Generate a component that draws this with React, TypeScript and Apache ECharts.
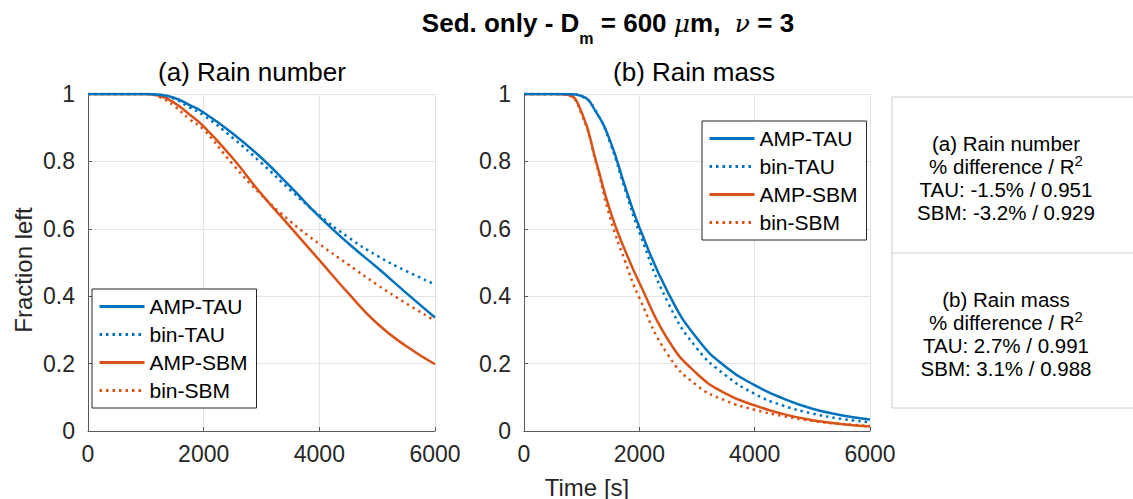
import React, { useEffect, useRef } from "react";
import * as echarts from "echarts";

const FONT = "'Liberation Sans', Arial, Helvetica, sans-serif";
const BLUE = "#0072BD";
const ORANGE = "#D95319";

const seriesNames = ["AMP-TAU", "bin-TAU", "AMP-SBM", "bin-SBM"];
const xTicks = [0, 2000, 4000, 6000];

// (a) Rain number
const timeA = [0, 500, 1000, 1250, 1500, 1750, 2000, 2500, 3000, 3500, 4000, 4500, 5000, 5500, 6000];
const ampTauA = [1, 1, 1, 0.998, 0.988, 0.968, 0.945, 0.883, 0.81, 0.725, 0.636, 0.557, 0.485, 0.41, 0.337];
const binTauA = [1, 1, 1, 0.997, 0.985, 0.961, 0.937, 0.87, 0.795, 0.715, 0.64, 0.575, 0.52, 0.475, 0.435];
const ampSbmA = [1, 1, 1, 0.994, 0.973, 0.94, 0.904, 0.81, 0.703, 0.605, 0.507, 0.409, 0.319, 0.252, 0.198];
const binSbmA = [1, 1, 1, 0.99, 0.963, 0.926, 0.894, 0.792, 0.7, 0.622, 0.555, 0.494, 0.434, 0.379, 0.327];

// (b) Rain mass
const timeB = [0, 500, 750, 1000, 1250, 1500, 1750, 2000, 2500, 3000, 3500, 4000, 4500, 5000, 5500, 6000];
const ampTauB = [1, 1, 1, 0.994, 0.946, 0.858, 0.727, 0.605, 0.41, 0.275, 0.19, 0.136, 0.096, 0.066, 0.047, 0.034];
const binTauB = [1, 1, 1, 0.993, 0.948, 0.852, 0.718, 0.59, 0.38, 0.245, 0.165, 0.11, 0.075, 0.052, 0.036, 0.026];
const ampSbmB = [1, 1, 0.998, 0.945, 0.8, 0.65, 0.537, 0.44, 0.27, 0.17, 0.111, 0.076, 0.05, 0.032, 0.021, 0.013];
const binSbmB = [1, 1, 0.997, 0.94, 0.795, 0.63, 0.505, 0.395, 0.225, 0.135, 0.09, 0.063, 0.044, 0.03, 0.021, 0.015];

// Statistics panel
const panelA = ["(a) Rain number", "TAU: -1.5% / 0.951", "SBM: -3.2% / 0.929"];
const panelB = ["(b) Rain mass", "TAU: 2.7% / 0.991", "SBM: 3.1% / 0.988"];

const DOT = [2.5, 4];

function pairs(t: number[], v: number[]) {
  return t.map((x, i) => [x, v[i]]);
}

function makeSeries(gi: number, t: number[], vals: number[][]) {
  const colors = [BLUE, BLUE, ORANGE, ORANGE];
  return vals.map((v, i) => ({
    name: seriesNames[i],
    type: "line",
    xAxisIndex: gi,
    yAxisIndex: gi,
    data: pairs(t, v),
    showSymbol: false,
    symbol: "none",
    smooth: 0.5,
    color: colors[i],
    lineStyle: { width: 2.5, color: colors[i], type: i % 2 === 1 ? DOT : "solid", cap: "butt" },
    z: 10 - i,
  }));
}

const axisLineStyle = { color: "#5a5a5a", width: 1 };

function xAxis(gi: number) {
  return {
    type: "value",
    gridIndex: gi,
    min: 0,
    max: 6000,
    interval: 2000,
    axisLine: { show: true, onZero: false, lineStyle: axisLineStyle },
    axisTick: { show: true, inside: true, length: 4, lineStyle: axisLineStyle },
    axisLabel: {
      fontSize: 23,
      fontFamily: FONT,
      color: "#262626",
      margin: 11,
      formatter: (v: number) => (xTicks.includes(v) ? String(v) : ""),
    },
    splitLine: { show: true, lineStyle: { color: "#e3e3e3", width: 1 } },
  };
}

function yAxis(gi: number) {
  return {
    type: "value",
    gridIndex: gi,
    min: 0,
    max: 1,
    interval: 0.2,
    axisLine: { show: true, onZero: false, lineStyle: axisLineStyle },
    axisTick: { show: true, inside: true, length: 4, lineStyle: axisLineStyle },
    axisLabel: { fontSize: 23, fontFamily: FONT, color: "#262626", margin: 13 },
    splitLine: { show: true, lineStyle: { color: "#e3e3e3", width: 1 } },
  };
}

function legend(left: number, top: number) {
  return {
    show: true,
    data: seriesNames,
    orient: "vertical",
    left,
    top,
    padding: [7, 9, 7, 6],
    itemWidth: 45,
    itemHeight: 20,
    itemGap: 7,
    backgroundColor: "#ffffff",
    borderColor: "#262626",
    borderWidth: 1,
    borderRadius: 0,
    selectedMode: false,
    itemStyle: { opacity: 0 },
    lineStyle: { width: 3 },
    textStyle: { fontSize: 21, fontFamily: FONT, color: "#000", lineHeight: 20 },
  };
}

function panelTexts(lines: string[], yTop: number) {
  const cx = 1006;
  const fs = 20.5;
  const base = { fontSize: fs, fontFamily: FONT, fill: "#000", align: "center", verticalAlign: "middle" };
  return [
    { type: "text", style: { ...base, text: lines[0], x: cx, y: yTop } },
    {
      type: "text",
      style: {
        ...base,
        text: "{m|% difference / R}{s|2}",
        x: cx,
        y: yTop + 23,
        rich: {
          m: { fontSize: fs, fontFamily: FONT, color: "#000" },
          s: { fontSize: 15, fontFamily: FONT, color: "#000", padding: [0, 0, 11, 0] },
        },
      },
    },
    { type: "text", style: { ...base, text: lines[1], x: cx, y: yTop + 46.5 } },
    { type: "text", style: { ...base, text: lines[2], x: cx, y: yTop + 69 } },
  ];
}

export default function App() {
  const ref = useRef<HTMLDivElement>(null);
  useEffect(() => {
    if (!ref.current) return;
    const chart = echarts.init(ref.current, undefined, { renderer: "svg" });
    const option = {
      animation: false,
      backgroundColor: "#ffffff",
      grid: [
        { left: 88, top: 94, width: 347, height: 337, containLabel: false },
        { left: 524, top: 94, width: 346, height: 337, containLabel: false },
      ],
      xAxis: [xAxis(0), xAxis(1)],
      yAxis: [yAxis(0), yAxis(1)],
      legend: [legend(92, 289), legend(702, 121)],
      series: [
        ...makeSeries(0, timeA, [ampTauA, binTauA, ampSbmA, binSbmA]),
        ...makeSeries(1, timeB, [ampTauB, binTauB, ampSbmB, binSbmB]),
      ],
      graphic: [
        {
          type: "text",
          style: {
            text: "{b|Sed. only - D}{s|m}{b| = 600 }{g|μ}{b|m,  }{g|ν}{b| = 3}",
            x: 608,
            y: 23,
            align: "center",
            verticalAlign: "middle",
            rich: {
              b: { fontSize: 26, fontWeight: "bold", fontFamily: FONT, color: "#000" },
              s: { fontSize: 16, fontWeight: "bold", fontFamily: FONT, color: "#000", padding: [30, 0, 0, 0] },
              g: { fontSize: 25, fontStyle: "italic", fontFamily: "'DejaVu Serif', serif", color: "#000" },
            },
          },
        },
        {
          type: "text",
          style: { text: "(a) Rain number", x: 252, y: 72, align: "center", verticalAlign: "middle", fontSize: 26, fontFamily: FONT, fill: "#000" },
        },
        {
          type: "text",
          style: { text: "(b) Rain mass", x: 694, y: 72, align: "center", verticalAlign: "middle", fontSize: 26, fontFamily: FONT, fill: "#000" },
        },
        {
          type: "text",
          rotation: Math.PI / 2,
          x: 23,
          y: 270,
          style: { text: "Fraction left", x: 0, y: 0, align: "center", verticalAlign: "middle", fontSize: 24, fontFamily: FONT, fill: "#262626" },
        },
        {
          type: "text",
          style: { text: "Time [s]", x: 587, y: 487, align: "center", verticalAlign: "middle", fontSize: 24, fontFamily: FONT, fill: "#262626" },
        },
        {
          type: "rect",
          shape: { x: 892, y: 97, width: 260, height: 311 },
          style: { fill: "#ffffff", stroke: "#cccccc", lineWidth: 1 },
        },
        {
          type: "line",
          shape: { x1: 892, y1: 253, x2: 1140, y2: 253 },
          style: { stroke: "#cccccc", lineWidth: 1 },
        },
        ...panelTexts(panelA, 143),
        ...panelTexts(panelB, 299),
      ],
    };
    chart.setOption(option as any);
    return () => chart.dispose();
  }, []);
  return (
    <div
      ref={ref}
      style={{ position: "fixed", left: 0, top: 0, width: 1133, height: 499, background: "#fff" }}
    />
  );
}
